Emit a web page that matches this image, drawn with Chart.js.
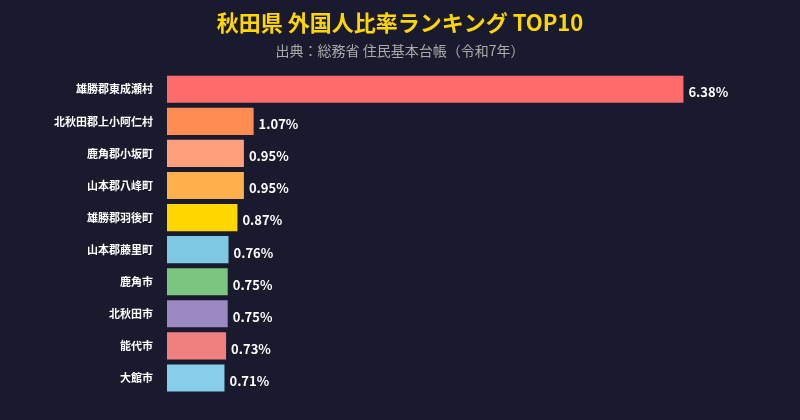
<!DOCTYPE html>
<html lang="ja">
<head>
<meta charset="UTF-8">
<title>秋田県 外国人比率ランキング TOP10</title>
<script src="https://cdn.jsdelivr.net/npm/chart.js@4"></script>
<style>
    html, body { margin: 0; padding: 0; background: #1a1a2e; }
    #wrap { width: 800px; height: 420px; }
</style>
</head>
<body>
<div id="wrap"><canvas id="ranking-chart" width="800" height="420"></canvas></div>
<script>
// Data
const municipalities = ['雄勝郡東成瀬村', '北秋田郡上小阿仁村', '鹿角郡小坂町', '山本郡八峰町', '雄勝郡羽後町',
    '山本郡藤里町', '鹿角市', '北秋田市', '能代市', '大館市'];
const foreignRatio = [6.38, 1.07, 0.95, 0.95, 0.87, 0.76, 0.75, 0.75, 0.73, 0.71];
const barColors = ['#FF6B6B', '#FF8C52', '#FFA07A', '#FFB04C', '#FFD700',
    '#7EC8E3', '#7BC67E', '#9B89C4', '#F08080', '#87CEEB'];

const fontFamily = '"Noto Sans CJK JP", "Noto Sans", sans-serif';

// Value labels at the end of each bar
const valueLabels = {
    id: 'valueLabels',
    afterDatasetsDraw(chart) {
        const ctx = chart.ctx;
        const meta = chart.getDatasetMeta(0);
        ctx.save();
        ctx.fillStyle = '#ffffff';
        ctx.font = 'bold 13px ' + fontFamily;
        ctx.textAlign = 'left';
        ctx.textBaseline = 'middle';
        meta.data.forEach((bar, i) => {
            ctx.fillText(foreignRatio[i].toFixed(2) + '%', bar.x + 5, bar.y + 3);
        });
        ctx.restore();
    }
};

new Chart(document.getElementById('ranking-chart'), {
    type: 'bar',
    data: {
        labels: municipalities,
        datasets: [{
            data: foreignRatio,
            backgroundColor: barColors,
            borderWidth: 0,
            barPercentage: 0.9,
            categoryPercentage: 0.94
        }]
    },
    options: {
        indexAxis: 'y',
        responsive: false,
        animation: false,
        layout: {
            padding: { top: 0, right: 0, bottom: 26, left: 0 }
        },
        plugins: {
            legend: { display: false },
            tooltip: { enabled: false },
            title: {
                display: true,
                text: '秋田県 外国人比率ランキング TOP10',
                color: '#FFD700',
                font: { family: fontFamily, size: 22, weight: 'bold' },
                padding: { top: 9, bottom: 3 }
            },
            subtitle: {
                display: true,
                text: '出典：総務省 住民基本台帳（令和7年）',
                color: '#aaaaaa',
                font: { family: fontFamily, size: 14 },
                padding: { top: 4, bottom: 14 }
            }
        },
        scales: {
            x: {
                display: false,
                min: 0,
                max: 7.82
            },
            y: {
                grid: { display: false, drawTicks: false },
                border: { display: false },
                ticks: {
                    color: '#ffffff',
                    padding: 14,
                    font: { family: fontFamily, size: 11, weight: 'bold' }
                },
                afterFit(scale) {
                    scale.width = 167;
                }
            }
        }
    },
    plugins: [valueLabels]
});
</script>
</body>
</html>
